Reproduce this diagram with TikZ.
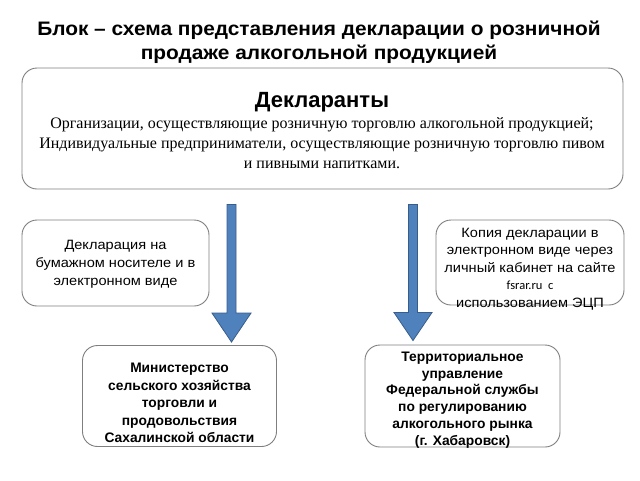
\documentclass[tikz,border=0pt]{standalone}
\usepackage{fontspec}
\setmainfont{Liberation Serif}
\setsansfont{Liberation Sans}
\newfontfamily\calfont{Carlito}
\newfontfamily\titlefont[FakeStretch=1.07]{Liberation Sans}
\newfontfamily\boxfont[FakeStretch=1.08]{Liberation Sans}
\usetikzlibrary{calc}
\definecolor{boxline}{HTML}{7F7F7F}
\definecolor{arrfill}{HTML}{4F81BD}
\definecolor{arrline}{HTML}{385D8A}
\tikzset{
  rbox/.style={draw=boxline, line width=0.9pt, rounded corners=15pt, inner sep=0pt, fill=white},
  btext/.style={align=center, inner sep=0pt},
  bigarrow/.style={fill=arrfill, draw=arrline, line width=0.8pt, line join=miter},
}
\begin{document}
\begin{tikzpicture}[x=1pt,y=-1pt]
\useasboundingbox (0,0) rectangle (640,480);
\node[btext, font=\titlefont\bfseries\fontsize{19.5}{24}\selectfont] (title) at (319,42)
  {Блок – схема представления декларации о розничной\\продаже алкогольной продукцией};
\node[rbox, minimum width=601pt, minimum height=121pt] (top) at (322.5,128.5) {};
\node[btext, font=\sffamily\bfseries\fontsize{22}{26}\selectfont] (toph) at (322,102.5) {Декларанты};
\node[btext, font=\rmfamily\fontsize{16}{20}\selectfont] (topt) at (322,143.5)
  {Организации, осуществляющие розничную торговлю алкогольной продукцией;\\Индивидуальные предприниматели, осуществляющие розничную торговлю пивом\\и пивными напитками.};
\node[rbox, minimum width=187pt, minimum height=86pt] (lmid) at (115.5,263) {};
\node[btext, font=\boxfont\fontsize{13.5}{18}\selectfont] (lmidt) at (115.5,264.5)
  {Декларация на\\бумажном носителе и в\\электронном виде};
\node[rbox, minimum width=188pt, minimum height=85pt] (rmid) at (530,262.5) {};
\node[btext, font=\boxfont\fontsize{13.5}{17.6}\selectfont] (rmidt) at (530,269)
  {Копия декларации в\\электронном виде через\\личный кабинет на сайте\\{\calfont\fontsize{12.5}{14}\selectfont fsrar.ru \ с}\\использованием ЭЦП};
\node[rbox, minimum width=194pt, minimum height=101pt] (lbot) at (179.5,396) {};
\node[btext, font=\sffamily\bfseries\fontsize{13.8}{17.4}\selectfont] (lbott) at (179.5,403)
  {Министерство\\сельского хозяйства\\торговли и\\продовольствия\\Сахалинской области};
\node[rbox, minimum width=195pt, minimum height=102pt] (rbot) at (462.5,396) {};
\node[btext, font=\sffamily\bfseries\fontsize{13.8}{16.8}\selectfont] (rbott) at (462.5,400)
  {Территориальное\\управление\\Федеральной службы\\по регулированию\\алкогольного рынка\\(г. Хабаровск)};
\coordinate (L0) at ($(top.south)+(-91,15)$);
\coordinate (L1) at ($(lbot.north)+(52,-3)$);
\coordinate (R0) at ($(top.south)+(90.5,15)$);
\coordinate (R1) at ($(rbot.north)+(-49.5,-4)$);
\draw[bigarrow] ($(L0)+(-4.5,0)$) -- ($(L1)+(-4.5,-29)$) -- ($(L1)+(-19.5,-29)$) -- (L1)
  -- ($(L1)+(19.5,-29)$) -- ($(L1)+(4.5,-29)$) -- ($(L0)+(4.5,0)$) -- cycle;
\draw[bigarrow] ($(R0)+(-4.5,0)$) -- ($(R1)+(-4.5,-28)$) -- ($(R1)+(-19,-28)$) -- (R1)
  -- ($(R1)+(19,-28)$) -- ($(R1)+(4.5,-28)$) -- ($(R0)+(4.5,0)$) -- cycle;
\end{tikzpicture}
\end{document}
